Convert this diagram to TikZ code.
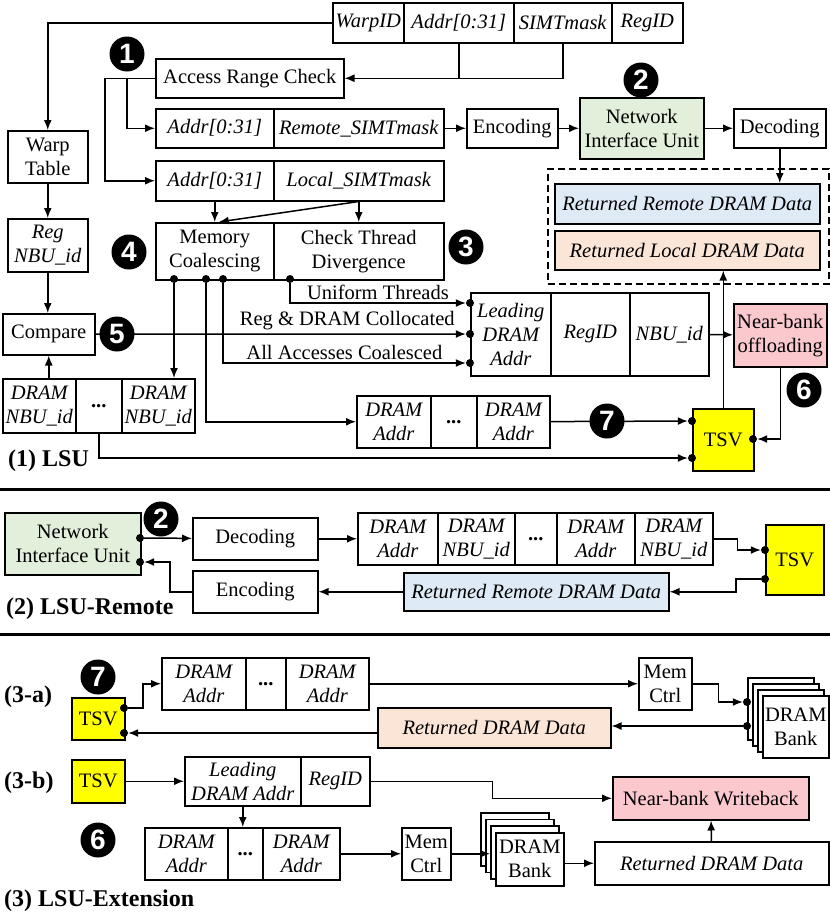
\documentclass[tikz,border=0pt]{standalone}
\usepackage{fontspec}
\setmainfont{Liberation Serif}
\newfontfamily\figfont{Liberation Serif}
\newfontfamily\badgefont{Liberation Sans}
\usepackage{tikz}
\usetikzlibrary{arrows.meta, calc}
\definecolor{NIUGreen}{RGB}{226,239,218}
\definecolor{RemBlue}{RGB}{222,235,247}
\definecolor{LocPeach}{RGB}{251,229,214}
\definecolor{NBPink}{RGB}{250,200,205}
\definecolor{TSVYellow}{RGB}{255,255,0}

\begin{document}
\begin{tikzpicture}[x=1pt, y=-1pt,
    box/.style={draw, line width=1.5pt, fill=white, inner sep=0pt, anchor=north west,
                align=center, font=\figfont\fontsize{20.5}{24}\selectfont},
    fld/.style={box, font=\figfont\fontsize{20.5}{24}\selectfont\itshape},
    badge/.style={circle, fill=black, text=white, inner sep=0pt, minimum size=35pt,
                  font=\badgefont\bfseries\fontsize{28}{28}\selectfont},
    dot/.style={circle, fill=black, inner sep=0pt, minimum size=8pt},
    arr/.style={-{Latex[length=10pt, width=8pt]}, line width=1.5pt},
    lbl/.style={font=\figfont\fontsize{20.5}{24}\selectfont, inner sep=3pt},
    sec/.style={anchor=west, inner sep=0pt, font=\figfont\fontsize{24}{26}\selectfont\bfseries},
    sepline/.style={line width=3pt}
  ]
  \useasboundingbox (0,0) rectangle (830,916);

  % (1) LSU
  \node[fld, minimum width=71, minimum height=40] (warpid) at (332,2) {WarpID};
  \node[fld, minimum width=110, minimum height=40] (haddr) at (403,2) {Addr[0:31]};
  \node[fld, minimum width=98, minimum height=40] (hmask) at (513,2) {SIMTmask};
  \node[fld, minimum width=71, minimum height=40] (hreg) at (611,2) {RegID};

  \node[box, minimum width=188, minimum height=39] (arc) at (155,58) {Access Range Check};
  \node[fld, minimum width=118, minimum height=39] (raddr) at (155,108) {Addr[0:31]};
  \node[fld, minimum width=170, minimum height=39] (rmask) at (273,108) {Remote\_SIMTmask};
  \node[box, minimum width=91, minimum height=39] (enc) at (466,108) {Encoding};
  \node[box, fill=NIUGreen, minimum width=124, minimum height=61] (niu) at (579,97)
        {Network\\Interface Unit};
  \node[box, minimum width=92, minimum height=39] (dec) at (733,108) {Decoding};

  \node[box, dash pattern=on 7pt off 4pt, fill=none, minimum width=281, minimum height=115]
        (retgrp) at (547,168) {};
  \node[fld, fill=RemBlue, minimum width=265, minimum height=40] (rrd) at (554,183)
        {Returned Remote DRAM Data};
  \node[fld, fill=LocPeach, minimum width=265, minimum height=39] (rld) at (554,230)
        {Returned Local DRAM Data};

  \node[fld, minimum width=118, minimum height=40] (laddr) at (155,160) {Addr[0:31]};
  \node[fld, minimum width=170, minimum height=40] (lmask) at (273,160) {Local\_SIMTmask};
  \node[box, minimum width=118, minimum height=57] (memc) at (155,222) {Memory\\Coalescing};
  \node[box, minimum width=170, minimum height=57] (ctd) at (273,222) {Check Thread\\Divergence};

  \node[box, minimum width=80, minimum height=52] (warp) at (7,130) {Warp\\Table};
  \node[fld, minimum width=80, minimum height=53] (regnbu) at (7,218) {Reg\\NBU\_id};
  \node[box, minimum width=92, minimum height=41] (compare) at (2,313) {Compare};
  \node[fld, minimum width=73, minimum height=54] (nbu1) at (2,378) {DRAM\\NBU\_id};
  \node[box, minimum width=46, minimum height=54] (nbud) at (75,378) {\textbf{...}};
  \node[fld, minimum width=73, minimum height=54] (nbu2) at (121,378) {DRAM\\NBU\_id};

  \node[fld, minimum width=80, minimum height=83] (lead) at (470,292) {Leading\\DRAM\\Addr};
  \node[fld, minimum width=79, minimum height=83] (lreg) at (550,292) {RegID};
  \node[fld, minimum width=79, minimum height=83] (lnbu) at (629,292) {NBU\_id};
  \node[box, fill=NBPink, minimum width=93, minimum height=63] (nbo) at (733,303)
        {Near-bank\\offloading};
  \node[box, fill=TSVYellow, minimum width=61, minimum height=62] (tsv) at (692,408) {TSV};
  \node[fld, minimum width=74, minimum height=52] (da1) at (356,395) {DRAM\\Addr};
  \node[box, minimum width=46, minimum height=52] (dad) at (430,395) {\textbf{...}};
  \node[fld, minimum width=73, minimum height=52] (da2) at (476,395) {DRAM\\Addr};
  \node[sec] (lsu) at (8,461) {(1) LSU};

  \node[dot] (m1) at (174,279) {};
  \node[dot] (m2) at (206,279) {};
  \node[dot] (m3) at (223,279) {};
  \node[dot] (m4) at (290,279) {};
  \node[dot] (l1) at (470,303) {};
  \node[dot] (l2) at (470,334) {};
  \node[dot] (l3) at (470,363) {};
  \node[dot] (t1) at (692,421) {};
  \node[dot] (t2) at (692,458) {};
  \node[dot] (t3) at (753,439) {};

  \draw[arr] (warpid.west) -| (warp.north);
  \draw[line width=1.5pt] (haddr.south) -- (haddr.south |- arc.east);
  \draw[arr] (hmask.south) |- (arc.east);
  \draw[arr] (arc.west) -- ++(-50,0) |- (laddr.west);
  \draw[arr] ([xshift=-28pt]arc.west) |- (raddr.west);
  \draw[arr] (rmask) -- (enc);
  \draw[arr] (enc) -- (niu);
  \draw[arr] (niu) -- (dec);
  \draw[arr] (dec.south) -- (dec.south |- rrd.north);
  \draw[arr] (laddr) -- (memc);
  \draw[arr] (lmask) -- (ctd);
  \draw[arr] (lmask.south) -- ([xshift=4pt]memc.north);

  \draw[arr] (warp) -- (regnbu);
  \draw[arr] (regnbu.south) -- (regnbu.south |- compare.north);
  \draw[arr] (compare.south |- nbu1.north) -- (compare.south);
  \draw[arr] (m1) -- (m1 |- nbu2.north);
  \draw[arr] (m2) |- (da1.west);
  \draw[arr] (m3) |- node[lbl, above, pos=0.75] (coal) {All Accesses Coalesced} (l3);
  \draw[arr] (m4) |- node[lbl, above, pos=0.75] (unif) {Uniform Threads} (l1);
  \draw[arr] (compare) -- node[lbl, above, pos=0.68] (coloc) {Reg \& DRAM Collocated} (l2);
  \draw[arr] (nbud.south) |- (t2);
  \draw[arr] (da2) -- (t1);
  \draw[arr] (lnbu) -- (nbo);
  \draw[arr] (nbo.south) |- (t3);
  \draw[arr] (tsv.north) -- (tsv.north |- rld.south);

  \draw[sepline] (0,489) -- (830,489);

  % (2) LSU-Remote
  \node[box, fill=NIUGreen, minimum width=136, minimum height=62] (niu2) at (4,512)
        {Network\\Interface Unit};
  \node[box, minimum width=125, minimum height=42] (dec2) at (192,517) {Decoding};
  \node[fld, minimum width=80, minimum height=52] (c1) at (357,512) {DRAM\\Addr};
  \node[fld, minimum width=77, minimum height=52] (c2) at (437,512) {DRAM\\NBU\_id};
  \node[box, minimum width=42, minimum height=52] (c3) at (514,512) {\textbf{...}};
  \node[fld, minimum width=78, minimum height=52] (c4) at (556,512) {DRAM\\Addr};
  \node[fld, minimum width=78, minimum height=52] (c5) at (634,512) {DRAM\\NBU\_id};
  \node[box, fill=TSVYellow, minimum width=58, minimum height=70] (tsv2) at (765,524) {TSV};
  \node[fld, fill=RemBlue, minimum width=265, minimum height=38] (rrd2) at (403,572)
        {Returned Remote DRAM Data};
  \node[box, minimum width=125, minimum height=42] (enc2) at (192,570) {Encoding};
  \node[sec] (lsur) at (6,609) {(2) LSU-Remote};

  \node[dot] (n1) at (140,538) {};
  \node[dot] (n2) at (140,562) {};
  \node[dot] (s1) at (765,550) {};
  \node[dot] (s2) at (765,579) {};

  \draw[arr] (n1) -- (dec2);
  \draw[arr] (dec2) -- (c1);
  \draw[arr] (c5.east) -- ++(24,0) |- (s1);
  \draw[arr] (s2) -- ++(-29,0) |- (rrd2.east);
  \draw[arr] (rrd2) -- (enc2);
  \draw[arr] (enc2.west) -- ++(-22,0) |- (n2);

  \draw[sepline] (0,634) -- (830,634);

  % (3) LSU-Extension
  \node[sec] (exta) at (4,697) {(3-a)};
  \node[box, fill=TSVYellow, minimum width=53, minimum height=42] (tsv3) at (71,697) {TSV};
  \node[fld, minimum width=84, minimum height=52] (e1) at (161,657) {DRAM\\Addr};
  \node[box, minimum width=40, minimum height=52] (e2) at (245,657) {\textbf{...}};
  \node[fld, minimum width=83, minimum height=52] (e3) at (285,657) {DRAM\\Addr};
  \node[box, minimum width=53, minimum height=52] (mc3) at (638,657) {Mem\\Ctrl};
  \foreach \i in {0,1,2}
    \node[box, minimum width=66, minimum height=62] (bka\i) at ({747+5*\i},{677+6*\i}) {};
  \node[box, minimum width=66, minimum height=62] (bank3) at (762,695) {DRAM\\Bank};
  \node[fld, fill=LocPeach, minimum width=233, minimum height=40] (ret3) at (377,707)
        {Returned DRAM Data};

  \node[dot] (a1) at (124,708) {};
  \node[dot] (a2) at (124,733) {};
  \node[dot] (k1) at (747,702) {};
  \node[dot] (k2) at (747,726) {};

  \draw[arr] (a1) -- ++(19,0) |- (e1.west);
  \draw[arr] (e3) -- (mc3);
  \draw[arr] (mc3.east) -- ++(26,0) |- (k1);
  \draw[arr] (k2) -- (k2 -| ret3.east);
  \draw[arr] (ret3.west |- a2) -- (a2);

  \node[sec] (extb) at (4,783) {(3-b)};
  \node[box, fill=TSVYellow, minimum width=53, minimum height=43] (tsv4) at (71,759) {TSV};
  \node[fld, minimum width=116, minimum height=49] (lead4) at (184,756) {Leading\\DRAM Addr};
  \node[fld, minimum width=69, minimum height=49] (reg4) at (300,756) {RegID};
  \node[box, fill=NBPink, minimum width=196, minimum height=43] (nbw) at (612,776)
        {Near-bank Writeback};
  \node[fld, minimum width=83, minimum height=52] (f1) at (144,827) {DRAM\\Addr};
  \node[box, minimum width=35, minimum height=52] (f2) at (227,827) {\textbf{...}};
  \node[fld, minimum width=77, minimum height=52] (f3) at (262,827) {DRAM\\Addr};
  \node[box, minimum width=49, minimum height=52] (mc4) at (401,827) {Mem\\Ctrl};
  \foreach \i in {0,1,2}
    \node[box, minimum width=68, minimum height=53] (bkb\i) at ({480+5*\i},{812+6.7*\i}) {};
  \node[box, minimum width=68, minimum height=53] (bank4) at (495,832) {DRAM\\Bank};
  \node[fld, minimum width=234, minimum height=43] (ret4) at (594,841) {Returned DRAM Data};
  \node[sec] (ext) at (4,901) {(3) LSU-Extension};

  \draw[arr] (tsv4) -- (lead4);
  \draw[arr] (reg4.east) -- ++(122,0) |- (nbw.west);
  \draw[arr] (lead4.south) -- (lead4.south |- f2.north);
  \draw[arr] (f3) -- (mc4);
  \draw[arr] (mc4) -- (mc4 -| bkb2.west);
  \draw[arr] (bank4.east |- ret4.west) -- (ret4.west);
  \draw[arr] (ret4) -- (nbw);

  % step badges
  \node[badge] (b1) at (127,54) {1};
  \node[badge] (b2) at (641,80) {2};
  \node[badge] (b3) at (466,247) {3};
  \node[badge] (b4) at (129,252) {4};
  \node[badge] (b5) at (117,334) {5};
  \node[badge] (b6) at (804,390) {6};
  \node[badge] (b7) at (607,421) {7};
  \node[badge] (b2r) at (161,519) {2};
  \node[badge] (b7a) at (98,677) {7};
  \node[badge] (b6b) at (98,840) {6};
\end{tikzpicture}
\end{document}
